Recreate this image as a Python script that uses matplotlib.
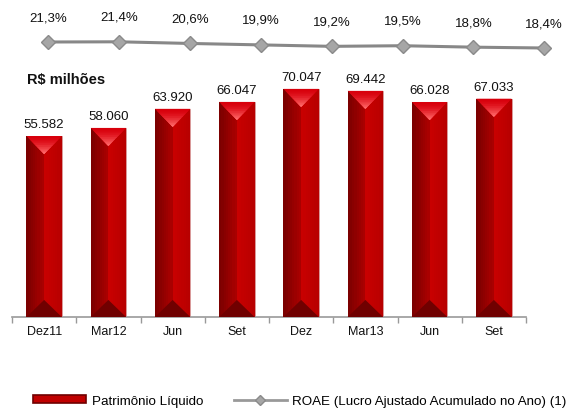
import matplotlib.pyplot as plt
from matplotlib.patches import Polygon, Patch
from matplotlib.lines import Line2D
import numpy as np

plt.rcParams['font.family'] = ['Liberation Sans', 'DejaVu Sans']

periodos = ['Dez11', 'Mar12', 'Jun', 'Set', 'Dez', 'Mar13', 'Jun', 'Set']
patrimonio = [55582, 58060, 63920, 66047, 70047, 69442, 66028, 67033]
roae = [21.3, 21.4, 20.6, 19.9, 19.2, 19.5, 18.8, 18.4]

def fmt_milhar(v):
    return f'{v:,}'.replace(',', '.')

def fmt_pct(v):
    return f'{v:.1f}%'.replace('.', ',')

def mistura(c1, c2, t):
    c1 = np.array([int(c1[i:i + 2], 16) for i in (1, 3, 5)]) / 255
    c2 = np.array([int(c2[i:i + 2], 16) for i in (1, 3, 5)]) / 255
    return tuple(c1 + (c2 - c1) * t)

fig = plt.figure(figsize=(5.76, 4.14), dpi=100)
ax = fig.add_axes([12 / 576, 1 - 318 / 414, 514 / 576, 308 / 414])
x = np.arange(len(periodos))
larg = 0.55
meia = larg / 2

# corpo da barra
ax.bar(x, patrimonio, width=larg, color='#c00000', edgecolor='#d9a0a0', linewidth=0.6, zorder=2)
# metade esquerda em degrade escuro, metade direita mais clara
n = 8
for k in range(n):
    ax.bar(x - meia + k * meia / n, patrimonio, width=meia / n, align='edge',
           color=mistura('#7c0000', '#a90000', k / (n - 1)), linewidth=0, zorder=3)
    ax.bar(x + k * meia / n, patrimonio, width=meia / n, align='edge',
           color=mistura('#c80000', '#b80000', k / (n - 1)), linewidth=0, zorder=3)

ymax = 308 / (181 / 55582)
bisel = 18 * ymax / 308
for xi, v in zip(x, patrimonio):
    # bisel superior com brilho em direcao a ponta
    m = 10
    for k in range(m):
        f = 1 - k / m
        y0 = v - bisel * (1 - f)
        ax.add_patch(Polygon([(xi - meia * f, y0), (xi + meia * f, y0), (xi, v - bisel)],
                             closed=True, facecolor=mistura('#d8000c', '#ff6a6a', (k / (m - 1)) ** 1.5),
                             linewidth=0, zorder=4))
    # bisel inferior (sombra)
    ax.add_patch(Polygon([(xi - meia, 0), (xi + meia, 0), (xi, bisel * 0.95)],
                         closed=True, facecolor='#700000', linewidth=0, zorder=4))
    ax.annotate(fmt_milhar(v), (xi, v), xytext=(0, 4), textcoords='offset points',
                ha='center', va='bottom', fontsize=9.5, color='#111111')

ax.set_xlim(-0.5, len(periodos) - 0.5)
ax.set_ylim(0, ymax)
ax.set_xticks(x)
ax.set_xticklabels(periodos, fontsize=9, color='#111111')
ax.set_xticks(np.arange(-0.5, len(periodos), 1), minor=True)
ax.tick_params(axis='x', which='major', length=0, pad=6)
ax.tick_params(axis='x', which='minor', length=4, color='#999999', width=1)
ax.set_yticks([])
for s in ['top', 'left', 'right']:
    ax.spines[s].set_visible(False)
ax.spines['bottom'].set_color('#999999')
ax.spines['bottom'].set_linewidth(1.2)

# ROAE em eixo proprio, com espacamento horizontal diferente das barras
ax2 = fig.add_axes(ax.get_position(), frameon=False)
passo = 70.9
x0 = -36 / passo
ax2.set_xlim(x0, x0 + 514 / passo)
ppx = 6 / 2.9
ax2.set_ylim(21.3 - 275 / ppx, 21.3 + 33 / ppx)
ax2.plot(x, roae, color='#888888', linewidth=2.2, marker='D', markersize=7,
         markerfacecolor='#a6a6a6', markeredgecolor='#8a8a8a', markeredgewidth=1,
         zorder=5, clip_on=False)
for xi, r in zip(x, roae):
    ax2.annotate(fmt_pct(r), (xi, r), xytext=(0, 18), textcoords='offset points',
                 ha='center', va='center', fontsize=9.5, color='#111111',
                 annotation_clip=False)
ax2.set_xticks([])
ax2.set_yticks([])

fig.text(27 / 576, 1 - 80 / 414, 'R$ milhões', fontsize=10.5, fontweight='bold',
         va='center', ha='left', color='#111111')

handles = [Patch(facecolor='#c00000', edgecolor='#700000', linewidth=1.2),
           Line2D([0], [0], color='#999999', linewidth=2, marker='D', markersize=5,
                  markerfacecolor='#a6a6a6', markeredgecolor='#8a8a8a')]
fig.legend(handles, ['Patrimônio Líquido', 'ROAE (Lucro Ajustado Acumulado no Ano) (1)'],
           loc='center', bbox_to_anchor=(300 / 576, 1 - 402 / 414), ncol=2, frameon=False,
           fontsize=9.6, handlelength=4.0, handleheight=0.5, columnspacing=2.3,
           handletextpad=0.4)

fig.savefig('out.png', dpi=100)
